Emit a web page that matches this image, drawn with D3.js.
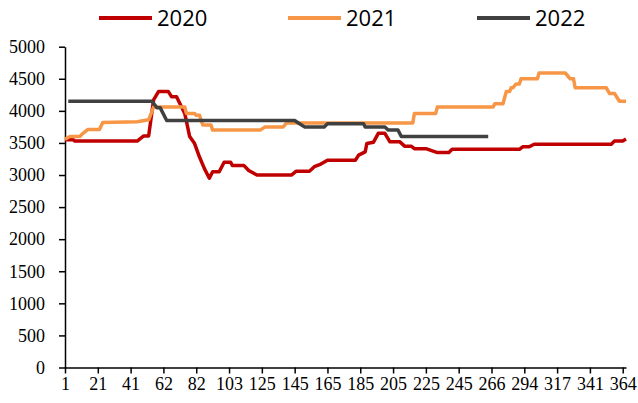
<!DOCTYPE html>
<html>
<head>
<meta charset="utf-8">
<script src="https://cdn.jsdelivr.net/npm/d3@7"></script>
<style>
  body { margin: 0; background: #fff; }
</style>
</head>
<body>
<div id="viz-container"></div>
<script>
// tick labels on the category axis (day numbers), one every 20 categories
let dayLabels = [1, 21, 41, 62, 82, 103, 125, 145, 165, 185, 205, 225, 245, 266, 294, 317, 341, 364];
let yTicks = [0, 500, 1000, 1500, 2000, 2500, 3000, 3500, 4000, 4500, 5000];
let years = ["2020", "2021", "2022"];

// [category index, value]
let s2020 = [[0,3550],[5,3550],[6,3530],[44,3530],[48,3610],[51,3610],[54,4170],[57,4300],[63,4300],
  [65,4220],[68,4220],[73,3960],[76,3600],[79,3490],[82,3280],[85,3100],[88,2950],[90,3050],[94,3050],
  [97,3200],[101,3200],[102,3150],[109,3150],[112,3070],[117,3000],[138,3000],[141,3060],[149,3060],
  [152,3130],[156,3170],[160,3230],[177,3230],[179,3310],[183,3360],[184,3490],[188,3510],[191,3650],
  [195,3650],[198,3520],[204,3520],[207,3450],[211,3450],[213,3410],[220,3410],[227,3350],[234,3350],
  [236,3400],[277,3400],[279,3440],[283,3440],[286,3480],[333,3480],[335,3530],[340,3530],[342,3560]];

let s2021 = [[0,3560],[3,3600],[9,3600],[11,3650],[14,3710],[21,3710],[23,3820],[44,3830],[51,3860],
  [54,4060],[73,4060],[74,3960],[79,3960],[80,3930],[82,3930],[84,3780],[89,3780],[90,3700],[119,3700],
  [122,3750],[133,3750],[135,3810],[212,3810],[213,3960],[226,3960],[227,4060],[261,4060],[262,4110],
  [267,4110],[269,4300],[271,4300],[272,4360],[273,4360],[275,4420],[277,4420],[278,4500],[288,4500],
  [289,4590],[305,4590],[308,4500],[310,4500],[311,4360],[330,4360],[332,4270],[335,4270],[338,4150],[342,4150]];

let s2022 = [[2,4150],[53,4150],[56,4050],[58,4050],[62,3850],[140,3850],[143,3800],[146,3750],[158,3750],
  [160,3800],[182,3800],[183,3750],[195,3750],[197,3700],[203,3700],[205,3600],[258,3600]];

let colors = ["#C00000", "#F79646", "#404040"];
let allSeries = [s2020, s2021, s2022];
let serif = "Liberation Serif, DejaVu Serif, Noto Serif, Tinos, Times New Roman, Times, serif";

let viz = d3.select("#viz-container")
  .append("svg")
  .attr("width", 638)
  .attr("height", 403)
;

let x = d3.scaleLinear().domain([0, 342]).range([65, 626]);
let y = d3.scaleLinear().domain([0, 5000]).range([367.5, 46.7]);

// y axis
let yAxis = d3.axisLeft(y).tickValues(yTicks).tickFormat(d3.format("d"))
  .tickSize(6).tickSizeOuter(0).tickPadding(14);
let gy = viz.append("g").attr("transform", "translate(65,0)").call(yAxis)
  .attr("font-family", serif).attr("font-size", 18);
gy.select(".domain").attr("stroke", "#000").attr("stroke-width", 1.5);
gy.selectAll(".tick line").attr("stroke", "#000").attr("stroke-width", 1.5);
gy.selectAll("text").attr("fill", "#000").attr("font-family", serif);

// x axis
let xAxis = d3.axisBottom(x)
  .tickValues(dayLabels.map((d, i) => i * 20))
  .tickFormat((d, i) => dayLabels[i])
  .tickSize(6).tickSizeOuter(0).tickPadding(4);
let gx = viz.append("g").attr("transform", "translate(0,367.5)").call(xAxis)
  .attr("font-family", serif).attr("font-size", 18);
gx.select(".domain").attr("stroke", "#000").attr("stroke-width", 1.5);
gx.selectAll(".tick line").attr("stroke", "#000").attr("stroke-width", 1.5);
gx.selectAll("text").attr("fill", "#000").attr("font-family", serif);

let line = d3.line().x(d => x(d[0])).y(d => y(d[1]));

viz.selectAll("path.series").data(allSeries).enter().append("path")
  .attr("class", "series")
  .attr("d", line)
  .attr("fill", "none")
  .attr("stroke", (d, i) => colors[i])
  .attr("stroke-width", 3.5)
  .attr("stroke-linejoin", "round")
;

// legend
let legendX = [99, 288, 477];
let lg = viz.selectAll("g.legend").data(years).enter().append("g")
  .attr("class", "legend")
  .attr("transform", (d, i) => "translate(" + legendX[i] + ",18)");
lg.append("line")
  .attr("x1", 0).attr("x2", 53).attr("y1", 0).attr("y2", 0)
  .attr("stroke", (d, i) => colors[i])
  .attr("stroke-width", 4);
lg.append("text")
  .attr("x", 58).attr("y", 0).attr("dy", "0.36em")
  .attr("font-family", "Open Sans, sans-serif")
  .attr("font-size", 22)
  .attr("fill", "#000")
  .text(d => d);
</script>
</body>
</html>
